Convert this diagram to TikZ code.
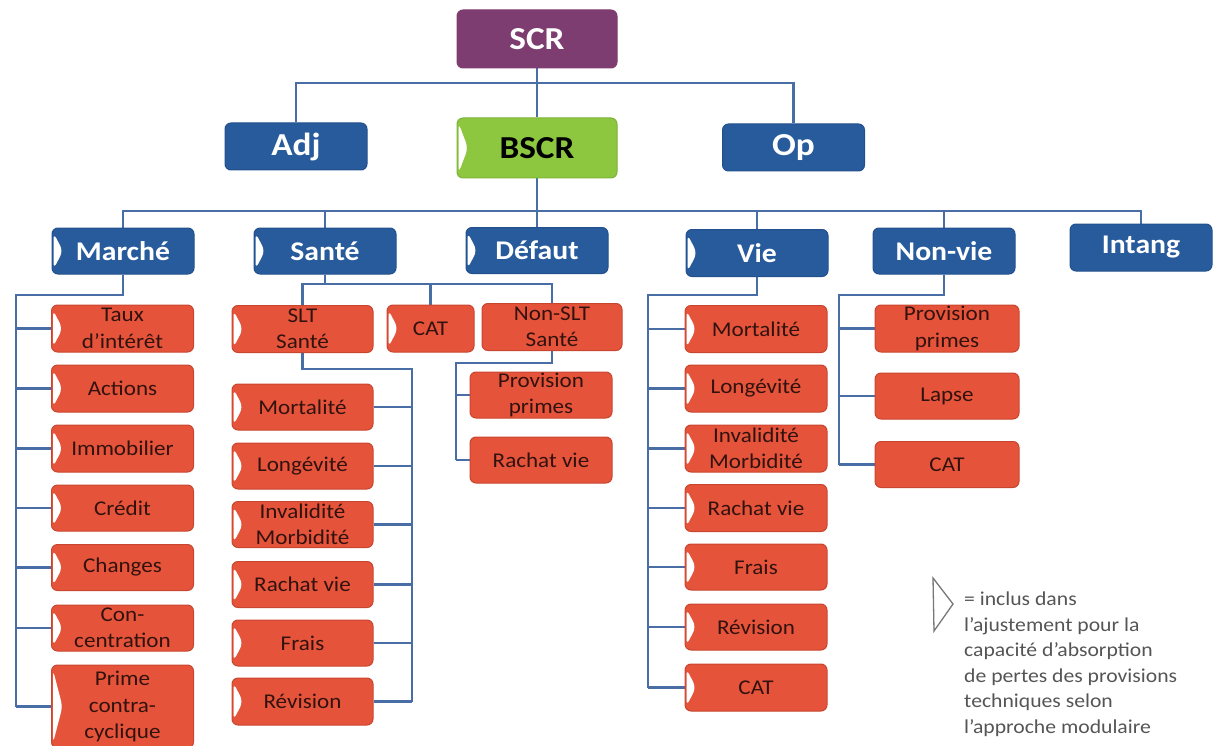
\documentclass[tikz,border=0pt]{standalone}
\usepackage{fontspec}
\setmainfont{Carlito}[FakeStretch=1.1]
\usetikzlibrary{calc}
\pgfdeclarelayer{bg}
\pgfsetlayers{bg,main}
\definecolor{scrpurple}{RGB}{126,61,112}
\definecolor{blu}{RGB}{40,91,156}
\definecolor{bluedge}{RGB}{35,80,140}
\definecolor{grn}{RGB}{141,198,63}
\definecolor{grnedge}{RGB}{125,180,55}
\definecolor{rd}{RGB}{229,84,58}
\definecolor{rdedge}{RGB}{200,70,48}
\definecolor{rtext}{RGB}{50,18,14}
\definecolor{lnk}{RGB}{72,110,165}
\definecolor{leggray}{RGB}{85,85,85}
\tikzset{
 rbox/.style={rounded corners=6pt, inner sep=0pt, align=center, line width=1pt},
 topfont/.style={font=\fontsize{32pt}{36pt}\selectfont\bfseries},
 topbox/.style={rbox, topfont, minimum width=142pt, minimum height=47pt, fill=blu, draw=bluedge, text=white},
 catbox/.style={rbox, fill=blu, draw=bluedge, text=white, minimum width=142pt, minimum height=46pt, font=\fontsize{27pt}{30pt}\selectfont\bfseries},
 riskbox/.style={rbox, fill=rd, draw=rdedge, text=rtext, minimum width=142pt, minimum height=46pt, font=\fontsize{21pt}{26.5pt}\selectfont},
 chev/.style={path picture={\fill[white] ([xshift=1.5pt,yshift=-5pt]path picture bounding box.north west) -- ([xshift=11pt]path picture bounding box.west) -- ([xshift=1.5pt,yshift=5pt]path picture bounding box.south west) -- cycle;}},
 conn/.style={draw=lnk, line width=2.4pt},
}
\begin{document}
\begin{tikzpicture}[x=1pt,y=-1pt]
\useasboundingbox (0,0) rectangle (1217,746);
% top level
\node[rbox, topfont, fill=scrpurple, draw=scrpurple, text=white, minimum width=160pt, minimum height=58pt] (scr) at (537,39) {SCR};
\node[topbox] (adj) at (296,146.5) {Adj};
\node[rbox, topfont, chev, fill=grn, draw=grnedge, text=black, minimum width=160pt, minimum height=60pt] (bscr) at (537,148) {BSCR};
\node[topbox] (op) at (793.5,147.5) {Op};
% categories
\node[catbox, chev] (marche) at (123,251) {Marché};
\node[catbox, chev] (sante) at (325,251) {Santé};
\node[catbox, chev] (defaut) at (537,250.5) {Défaut};
\node[catbox, chev, minimum height=47pt] (vie) at (757,253) {Vie};
\node[catbox] (nonvie) at (944,251) {Non-vie};
\node[catbox, minimum height=47pt] (intang) at (1141,247.5) {Intang};
% Marche children
\node[riskbox, chev, minimum height=47pt] (m1) at (122.5,328.5) {Taux\\d’intérêt};
\node[riskbox, chev, minimum height=47pt] (m2) at (122.5,388.5) {Actions};
\node[riskbox, chev, minimum height=47pt] (m3) at (122.5,448.5) {Immobilier};
\node[riskbox, chev] (m4) at (122.5,508) {Crédit};
\node[riskbox, chev] (m5) at (122.5,567.5) {Changes};
\node[riskbox, chev] (m6) at (122.5,628) {Con-\\centration};
\node[riskbox, chev, minimum height=83pt] (m7) at (122.5,706.5) {Prime\\contra-\\cyclique};
% Sante children
\node[riskbox, chev, minimum width=141pt, minimum height=47pt] (slt) at (302.5,329) {SLT\\Santé};
\node[riskbox, chev, minimum width=87pt, minimum height=47pt] (cat1) at (430.5,328.5) {CAT};
\node[riskbox, minimum width=140pt, minimum height=47pt] (nslt) at (552,327) {Non-SLT\\Santé};
\node[riskbox, chev, minimum width=141pt] (s1) at (302.5,407) {Mortalité};
\node[riskbox, chev, minimum width=141pt] (s2) at (302.5,466) {Longévité};
\node[riskbox, chev, minimum width=141pt] (s3) at (302.5,524.5) {Invalidité\\Morbidité};
\node[riskbox, chev, minimum width=141pt] (s4) at (302.5,584.5) {Rachat vie};
\node[riskbox, chev, minimum width=141pt] (s5) at (302.5,643) {Frais};
\node[riskbox, chev, minimum width=141pt, minimum height=47pt] (s6) at (302.5,701.5) {Révision};
\node[riskbox] (r1) at (541,395) {Provision\\primes};
\node[riskbox] (r2) at (541,460) {Rachat vie};
% Vie children
\node[riskbox, chev, minimum height=47pt] (v1) at (756,329) {Mortalité};
\node[riskbox, chev, minimum height=47pt] (v2) at (756,388.5) {Longévité};
\node[riskbox, chev, minimum height=47pt] (v3) at (756,448.5) {Invalidité\\Morbidité};
\node[riskbox, chev, minimum height=47pt] (v4) at (756,508) {Rachat vie};
\node[riskbox, chev] (v5) at (756,567) {Frais};
\node[riskbox, chev] (v6) at (756,627) {Révision};
\node[riskbox, chev, minimum height=47pt] (v7) at (756,687.5) {CAT};
% Non-vie children
\node[riskbox, minimum width=144pt, minimum height=47pt] (n1) at (947,328.5) {Provision\\primes};
\node[riskbox, minimum width=144pt] (n2) at (947,396) {Lapse};
\node[riskbox, minimum width=144pt] (n3) at (947,464.5) {CAT};
% legend
\draw[leggray!80, line width=1.3pt, line join=miter] (933,578) -- (953,604) -- (934,631) -- cycle;
\node[anchor=north west, align=left, inner sep=0pt, text=leggray, font=\fontsize{19.7pt}{25.5pt}\selectfont] (legend) at (964,592) {= inclus dans\\l’ajustement pour la\\capacité d’absorption\\de pertes des provisions\\techniques selon\\l’approche modulaire};
% connectors
\begin{pgfonlayer}{bg}
\coordinate (b1) at (537,83);
\draw[conn] (adj.north) |- (b1) -| (op.north);
\draw[conn] (scr.south) -- (bscr.north);
\coordinate (b2) at (537,211);
\draw[conn] (marche.north) |- (b2) -| (intang.north);
\draw[conn] (bscr.south) -- (defaut.north);
\draw[conn] (sante.north) -- (sante.north |- b2);
\draw[conn] (vie.north) -- (vie.north |- b2);
\draw[conn] (nonvie.north) -- (nonvie.north |- b2);
% Marche
\coordinate (ms) at (16,295);
\draw[conn] (marche.south) |- (ms) -- (ms |- m7.west);
\foreach \n in {m1,m2,m3,m4,m5,m6,m7} \draw[conn] (ms |- \n.west) -- (\n.west);
% Sante
\coordinate (sb) at (325,284);
\draw[conn] (sante.south) -- (sb);
\draw[conn] (slt.north) |- (sb) -| (nslt.north);
\draw[conn] (cat1.north) -- (cat1.north |- sb);
\coordinate (sc) at (412,369);
\draw[conn] (slt.south) |- (sc) -- (sc |- s6.east);
\foreach \n in {s1,s2,s3,s4,s5,s6} \draw[conn] (\n.east) -- (\n.east -| sc);
\coordinate (nc) at (456,363);
\draw[conn] (nslt.south) |- (nc) -- (nc |- r2.west);
\foreach \n in {r1,r2} \draw[conn] (nc |- \n.west) -- (\n.west);
% Vie
\coordinate (vs) at (648,295);
\draw[conn] (vie.south) |- (vs) -- (vs |- v7.west);
\foreach \n in {v1,v2,v3,v4,v5,v6,v7} \draw[conn] (vs |- \n.west) -- (\n.west);
% Non-vie
\coordinate (ns) at (839,295);
\draw[conn] (nonvie.south) |- (ns) -- (ns |- n3.west);
\foreach \n in {n1,n2,n3} \draw[conn] (ns |- \n.west) -- (\n.west);
\end{pgfonlayer}
\end{tikzpicture}
\end{document}
